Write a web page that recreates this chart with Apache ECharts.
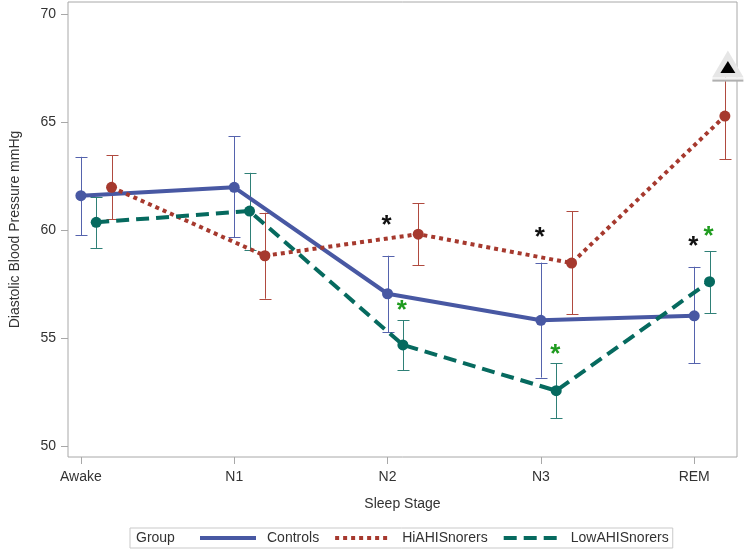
<!DOCTYPE html>
<html><head><meta charset="utf-8">
<script src="https://cdn.jsdelivr.net/npm/echarts@6/dist/echarts.min.js"></script>
<style>html,body{margin:0;padding:0;background:#fff}#c{width:749px;height:551px}</style>
</head><body><div id="c"></div>
<script>
// ---- data ----
const stages = ['Awake', 'N1', 'N2', 'N3', 'REM'];
const groupNames = ['Controls', 'HiAHISnorers', 'LowAHISnorers'];
const yTicks = [50, 55, 60, 65, 70];

const controlsMean = [61.59, 61.98, 57.05, 55.82, 56.03];
const controlsLow  = [59.75, 59.66, 55.26, 53.17, 53.84];
const controlsHigh = [63.39, 64.35, 58.81, 58.49, 58.30];

const hiMean = [61.98, 58.81, 59.81, 58.47, 65.28];
const hiLow  = [60.50, 56.82, 58.38, 56.10, 63.27];
const hiHigh = [63.46, 60.80, 61.25, 60.87, 67.29];
const hiClipped = [0, 0, 0, 0, 1];

const lowMean = [60.36, 60.88, 54.68, 52.56, 57.61];
const lowLow  = [59.17, 59.09, 53.50, 51.28, 56.16];
const lowHigh = [61.51, 62.65, 55.82, 53.83, 59.03];

// significance stars (stage index, value)
const blackStarStage = [2, 3, 4];
const blackStarY = [60.43, 59.85, 59.46];
const greenStarStage = [2, 3, 4];
const greenStarY = [56.48, 54.44, 59.92];

// ---- chart ----
const FONT = '"Liberation Sans", Arial, sans-serif';
const groups = [
  {name: groupNames[0], offset: 0.0, mean: controlsMean, lo: controlsLow, hi: controlsHigh, clip: [0,0,0,0,0],
   color: '#4858a3', bar: '#5563ad', type: 'solid'},
  {name: groupNames[1], offset: 0.2, mean: hiMean, lo: hiLow, hi: hiHigh, clip: hiClipped,
   color: '#a6392e', bar: '#b04a3f', type: [4, 4]},
  {name: groupNames[2], offset: 0.1, mean: lowMean, lo: lowLow, hi: lowHigh, clip: [0,0,0,0,0],
   color: '#066a5f', bar: '#2f8077', type: [13, 7]}
];

const series = [];
groups.forEach(g => {
  series.push({
    type: 'custom', z: 1, clip: false, silent: true,
    data: stages.map((s, i) => [i + g.offset, g.lo[i], g.hi[i], g.clip[i]]),
    renderItem: (params, api) => {
      const x = api.value(0);
      const pLo = api.coord([x, api.value(1)]);
      const pHi = api.coord([x, api.value(2)]);
      const clipped = api.value(3) === 1;
      const w = 6;
      const st = {stroke: g.bar, lineWidth: 1};
      const xx = Math.round(pLo[0]) + 0.5;
      const ch = [
        {type: 'line', shape: {x1: xx, y1: pLo[1], x2: xx, y2: pHi[1]}, style: st},
        {type: 'line', shape: {x1: xx - w, y1: Math.round(pLo[1]) + 0.5, x2: xx + w, y2: Math.round(pLo[1]) + 0.5}, style: st}
      ];
      if (!clipped) ch.push({type: 'line', shape: {x1: xx - w, y1: Math.round(pHi[1]) + 0.5, x2: xx + w, y2: Math.round(pHi[1]) + 0.5}, style: st});
      return {type: 'group', children: ch};
    }
  });
});
groups.forEach(g => {
  series.push({
    name: g.name, type: 'line', z: 2, symbol: 'none', silent: true,
    lineStyle: {color: g.color, width: 4, type: g.type},
    itemStyle: {color: g.color},
    data: stages.map((s, i) => [i + g.offset, g.mean[i]])
  });
});
groups.forEach(g => {
  series.push({
    type: 'scatter', z: 3, symbol: 'circle', symbolSize: 11, silent: true,
    itemStyle: {color: g.color, opacity: 1},
    data: stages.map((s, i) => [i + g.offset, g.mean[i]])
  });
});
// clipped-upper-limit marker
series.push({
  type: 'custom', z: 4, clip: false, silent: true,
  data: hiClipped.map((c, i) => c ? [i + groups[1].offset, hiHigh[i]] : null).filter(d => d),
  renderItem: (params, api) => {
    const p = api.coord([api.value(0), api.value(1)]);
    const cx = p[0] + 3, b = p[1];
    return {type: 'group', children: [
      {type: 'polygon', shape: {points: [[cx, b - 22], [cx - 15.5, b + 4.5], [cx + 15.5, b + 4.5]]}, style: {fill: '#e6e6e6'}},
      {type: 'rect', shape: {x: cx - 15.5, y: b + 4.5, width: 31, height: 3}, style: {fill: '#f2f2f2'}},
      {type: 'rect', shape: {x: cx - 15.5, y: b + 7, width: 31, height: 2}, style: {fill: '#b0b0b0'}},
      {type: 'polygon', shape: {points: [[cx, b - 11.5], [cx - 7.5, b + 0.5], [cx + 7.5, b + 0.5]]}, style: {fill: '#000'}}
    ]};
  }
});
function starSeries(stIdx, ys, offset, color) {
  return {
    type: 'custom', z: 5, clip: false, silent: true,
    data: stIdx.map((s, i) => [s + offset, ys[i]]),
    renderItem: (params, api) => {
      const p = api.coord([api.value(0), api.value(1)]);
      return {type: 'text', x: p[0] - 1, y: p[1] + 5, style: {
        text: '*', fill: color, fontSize: 26, fontFamily: FONT, fontWeight: 'bold',
        textAlign: 'center', textVerticalAlign: 'middle', align: 'center', verticalAlign: 'middle'}};
    }
  };
}
series.push(starSeries(blackStarStage, blackStarY, 0.0, '#111'));
series.push(starSeries(greenStarStage, greenStarY, 0.1, '#1f9b1f'));

const chart = echarts.init(document.getElementById('c'));
chart.setOption({
  animation: false,
  backgroundColor: '#fff',
  textStyle: {fontFamily: FONT},
  grid: {left: 64, right: 12, top: 2, bottom: 94, show: true, borderColor: '#a8a8a8', borderWidth: 1},
  xAxis: {
    type: 'value', min: -0.084, max: 4.279,
    name: 'Sleep Stage', nameLocation: 'middle', nameGap: 40,
    nameTextStyle: {fontSize: 14, color: '#333', fontFamily: FONT},
    axisLine: {show: false, onZero: false}, splitLine: {show: false},
    axisTick: {show: true, customValues: [0, 1, 2, 3, 4], length: 7, lineStyle: {color: '#a8a8a8'}},
    axisLabel: {customValues: [0, 1, 2, 3, 4], formatter: v => stages[Math.round(v)], margin: 13,
      fontSize: 14, color: '#333', fontFamily: FONT}
  },
  yAxis: {
    type: 'value', min: 49.49, max: 70.56,
    name: 'Diastolic Blood Pressure mmHg', nameLocation: 'middle', nameGap: 46,
    nameTextStyle: {fontSize: 14, color: '#333', fontFamily: FONT},
    axisLine: {show: false, onZero: false}, splitLine: {show: false},
    axisTick: {show: true, customValues: yTicks, length: 7, lineStyle: {color: '#a8a8a8'}},
    axisLabel: {customValues: yTicks, margin: 12, fontSize: 14, color: '#333', fontFamily: FONT}
  },
  legend: {
    data: groupNames, left: 130, top: 528, padding: [3, 4, 3, 68],
    itemWidth: 56, itemHeight: 14, itemGap: 14,
    backgroundColor: '#fff', borderColor: '#c9c9c9', borderWidth: 1, borderRadius: 0,
    textStyle: {fontSize: 14, color: '#333', fontFamily: FONT, padding: [0, 0, 0, 6]},
    itemStyle: {opacity: 0}, lineStyle: {width: 4},
    selectedMode: false
  },
  graphic: [{type: 'text', left: 136, top: 531, z: 100, silent: true,
    style: {text: 'Group', fontSize: 14, fill: '#333', fontFamily: FONT}}],
  series: series
});
</script></body></html>
